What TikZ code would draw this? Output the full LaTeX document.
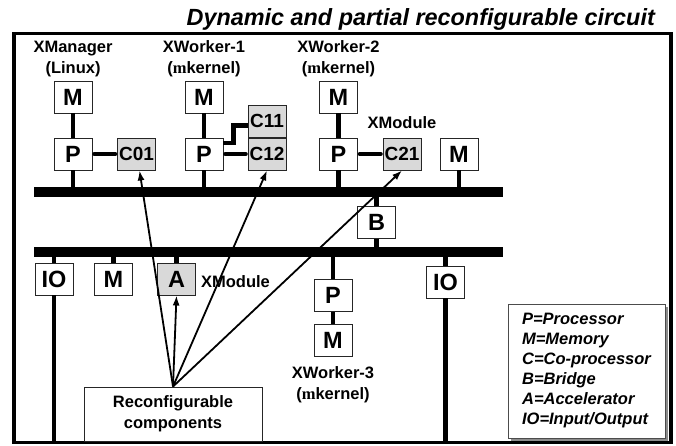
\documentclass[tikz,border=0pt]{standalone}
\usepackage{fontspec}
\setmainfont{Liberation Sans}
\newfontfamily\mufont{Liberation Serif}
\usetikzlibrary{positioning,shadows,arrows.meta}
\newcommand{\mk}{({\mufont m}kernel)}
\tikzset{%
  >={Latex[length=10pt,width=7pt]}, % default arrow style
  unit/.style={draw=black!85,line width=0.9pt,fill=white,minimum width=38,
    minimum height=32,inner sep=0pt,font=\fontsize{23.5}{23.5}\selectfont\bfseries},
  copro/.style={unit,fill=gray!30,font=\fontsize{19}{19}\selectfont\bfseries},
  tag/.style={inner sep=0pt,align=center,font=\fontsize{16.5}{21}\selectfont\bfseries},
  link/.style={line width=4.5pt},
  hlink/.style={link,line cap=round,shorten <=2pt,shorten >=2pt},
  bus/.style={line width=10pt},
  ray/.style={->,line width=1.8pt}
}

\begin{document}
\begin{tikzpicture}[x=1pt,y=-1pt]
  \useasboundingbox (0,0) rectangle (676,445);
  % frame and title
  \draw[line width=3.5pt] (14,33.5) rectangle (671,442.5);
  \node[anchor=base east,inner sep=0pt,
    font=\fontsize{23.4}{23.4}\selectfont\bfseries\itshape] (title) at (655,25)
    {Dynamic and partial reconfigurable circuit};
  % coordinates
  \coordinate (busA-w) at (34,192);
  \coordinate (busA-e) at (503,192);
  \coordinate (busB-w) at (34,252);
  \coordinate (busB-e) at (503,252);
  \coordinate (floor)  at (14,442.5);
  % upper units
  \node[unit]  (mgrM) at (73,97)     {M};
  \node[unit]  (mgrP) at (73,154)    {P};
  \node[copro] (c01)  at (136.5,154) {C01};
  \node[unit]  (w1M)  at (204,97)    {M};
  \node[unit]  (w1P)  at (204,154)   {P};
  \node[copro] (c12)  at (267,154)   {C12};
  \node[copro,anchor=south] (c11) at (c12.north) {C11};
  \node[unit]  (w2M)  at (338.5,97)  {M};
  \node[unit]  (w2P)  at (338.5,154) {P};
  \node[copro] (c21)  at (402,154)   {C21};
  \node[unit]  (shM)  at (459,154)   {M};
  \node[unit]  (br)   at (376.5,222.5) {B};
  % lower units
  \node[unit]  (io1)  at (54,279)    {IO};
  \node[unit]  (loM)  at (113.5,279) {M};
  \node[copro,font=\fontsize{23.5}{23.5}\selectfont\bfseries] (acc) at (176.5,279) {A};
  \node[unit]  (w3P)  at (333,295.5) {P};
  \node[unit]  (w3M)  at (333,340.5) {M};
  \node[unit]  (io2)  at (445.5,282) {IO};
  % labels
  \node[tag,above=3pt of mgrM] (mgrT) {XManager\\(Linux)};
  \node[tag,above=3pt of w1M]  (w1T)  {XWorker-1\\\mk};
  \node[tag,above=3pt of w2M]  (w2T)  {XWorker-2\\\mk};
  \node[tag,above=9pt of c21]  (c21T) {XModule};
  \node[tag,right=5pt of acc,yshift=-3pt] (accT) {XModule};
  \node[tag,below=9pt of w3M]  (w3T)  {XWorker-3\\\mk};
  % links
  \draw[link] (mgrM) -- (mgrP);
  \draw[link] (w1M) -- (w1P);
  \draw[link] (w2M) -- (w2P);
  \draw[link] (w3P) -- (w3M);
  \draw[hlink] (mgrP) -- (c01);
  \draw[hlink] (w1P) -- (c12);
  \draw[hlink] (w2P) -- (c21);
  \draw[link] ([yshift=11pt]w1P.east) -- ++(10,0) |- ([yshift=-4.5pt]c11.west);
  \draw[link] (mgrP) -- (mgrP |- busA-w);
  \draw[link] (w1P) -- (w1P |- busA-w);
  \draw[link] (w2P) -- (w2P |- busA-w);
  \draw[link] (shM) -- (shM |- busA-w);
  \draw[link] (br) -- (br |- busA-w);
  \draw[link] (br) -- (br |- busB-w);
  \draw[link] (io1) -- (io1 |- busB-w);
  \draw[link] (loM) -- (loM |- busB-w);
  \draw[link] (acc) -- (acc |- busB-w);
  \draw[link] (w3P) -- (w3P |- busB-w);
  \draw[link] (io2) -- (io2 |- busB-w);
  \draw[link] (io1) -- (io1 |- floor);
  \draw[link] (io2) -- (io2 |- floor);
  % buses
  \draw[bus] (busA-w) -- (busA-e);
  \draw[bus] (busB-w) -- (busB-e);
  % reconfigurable components
  \node[tag,draw=black!85,line width=0.9pt,fill=white,minimum width=178,
    minimum height=54] (rc) at (173,414) {Reconfigurable\\components};
  \draw[ray] (rc.north) -- ([xshift=3pt]c01.south);
  \draw[ray] (rc.north) -- (c12.south);
  \draw[ray] (rc.north) -- (c21.south);
  \draw[ray] (rc.north) -- (acc.south);
  % legend
  \node[draw=black!70,fill=white,line width=0.9pt,
    drop shadow={shadow xshift=3pt,shadow yshift=-3pt,fill=black!45,opacity=1},
    minimum width=157,minimum height=134,align=left,
    font=\fontsize{16.5}{20}\selectfont\bfseries\itshape] (legend) at (586.5,371)
    {P=Processor\\M=Memory\\C=Co-processor\\B=Bridge\\A=Accelerator\\IO=Input/Output};
\end{tikzpicture}
\end{document}
